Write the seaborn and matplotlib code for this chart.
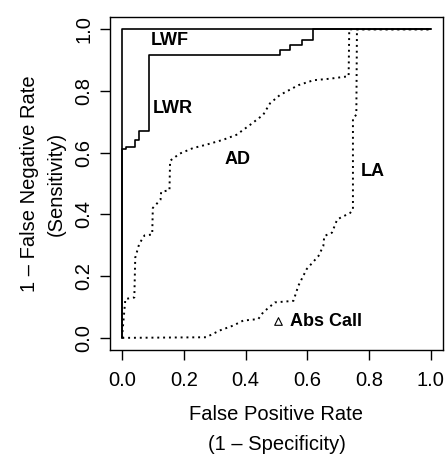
import matplotlib
matplotlib.use("Agg")
import matplotlib.pyplot as plt
import seaborn as sns

# ROC curves (false positive rate, sensitivity)
lwf_fpr = [0.0, 0.0, 1.0]
lwf_tpr = [0.0, 1.0, 1.0]

lwr_fpr = [0.0, 0.0, 0.012, 0.041, 0.055, 0.085, 0.511, 0.544, 0.582, 0.62, 1.0]
lwr_tpr = [0.0, 0.612, 0.618, 0.64, 0.669, 0.918, 0.934, 0.95, 0.966, 1.0, 1.0]

ad_fpr = [0.0, 0.0, 0.01, 0.039, 0.042, 0.055, 0.072, 0.097, 0.099, 0.124, 0.126,
          0.153, 0.155, 0.186, 0.229, 0.272, 0.327, 0.37, 0.414, 0.457, 0.479,
          0.511, 0.571, 0.62, 0.674, 0.734, 0.736, 0.76, 1.0]
ad_tpr = [0.0, 0.013, 0.126, 0.131, 0.26, 0.305, 0.332, 0.335, 0.421, 0.448, 0.473,
          0.479, 0.574, 0.597, 0.615, 0.626, 0.642, 0.658, 0.69, 0.723, 0.76,
          0.787, 0.819, 0.835, 0.84, 0.848, 1.0, 1.0, 1.0]

la_fpr = [0.0, 0.272, 0.316, 0.36, 0.392, 0.441, 0.457, 0.495, 0.555, 0.571, 0.598,
          0.636, 0.652, 0.655, 0.68, 0.697, 0.739, 0.748, 0.748, 0.759, 0.761, 1.0]
la_tpr = [0.0, 0.002, 0.024, 0.04, 0.056, 0.061, 0.083, 0.115, 0.12, 0.169, 0.223,
          0.265, 0.298, 0.33, 0.341, 0.384, 0.405, 0.416, 0.712, 0.723, 1.0, 1.0]

abs_fpr = [0.506]
abs_tpr = [0.056]

ticks = [0.0, 0.2, 0.4, 0.6, 0.8, 1.0]
tick_labels = ["0.0", "0.2", "0.4", "0.6", "0.8", "1.0"]

sns.set_style("ticks")
plt.rcParams["font.family"] = ["Liberation Sans", "DejaVu Sans"]
plt.rcParams["text.color"] = "black"
plt.rcParams["axes.labelcolor"] = "black"
plt.rcParams["xtick.color"] = "black"
plt.rcParams["ytick.color"] = "black"

fig = plt.figure(figsize=(4.47, 4.59), dpi=100)
ax = fig.add_axes([0.246, 0.237, 0.745, 0.726])

dots = (0, (1, 2))
sns.lineplot(x=lwf_fpr, y=lwf_tpr, sort=False, estimator=None, color="black", linewidth=1.2, ax=ax)
sns.lineplot(x=lwr_fpr, y=lwr_tpr, sort=False, estimator=None, color="black", linewidth=1.2,
             drawstyle="steps-post", ax=ax)
sns.lineplot(x=ad_fpr, y=ad_tpr, sort=False, estimator=None, color="black", linewidth=1.4,
             linestyle=dots, ax=ax)
sns.lineplot(x=la_fpr, y=la_tpr, sort=False, estimator=None, color="black", linewidth=1.4,
             linestyle=dots, ax=ax)
sns.scatterplot(x=abs_fpr, y=abs_tpr, marker="^", s=30, facecolor="white", edgecolor="black",
                linewidth=0.8, ax=ax, zorder=5)

lab = dict(fontsize=13, fontweight="bold", va="center", ha="left", color="black")
ax.text(0.093, 0.965, "LWF", **lab)
ax.text(0.099, 0.745, "LWR", **lab)
ax.text(0.332, 0.577, "AD", **lab)
ax.text(0.772, 0.54, "LA", **lab)
ax.text(0.544, 0.052, "Abs Call", **lab)

ax.set_xlim(-0.04, 1.04)
ax.set_ylim(-0.04, 1.04)
ax.set_xticks(ticks)
ax.set_xticklabels(tick_labels, fontsize=14.5)
ax.set_yticks(ticks)
ax.set_yticklabels(tick_labels, fontsize=14.5, rotation=90, va="center")
ax.tick_params(direction="out", length=7, width=1, color="black")
ax.tick_params(axis="x", pad=8)
ax.tick_params(axis="y", pad=5)
for s in ax.spines.values():
    s.set_visible(True)
    s.set_linewidth(1.0)
    s.set_color("black")

ax.set_xlabel("False Positive Rate\n(1 \u2013 Specificity)", fontsize=14.5, linespacing=1.7, labelpad=11)
ax.set_ylabel("1 \u2013 False Negative Rate\n(Sensitivity)", fontsize=14.5, linespacing=1.5, labelpad=6)

fig.savefig("out.png", dpi=100)
